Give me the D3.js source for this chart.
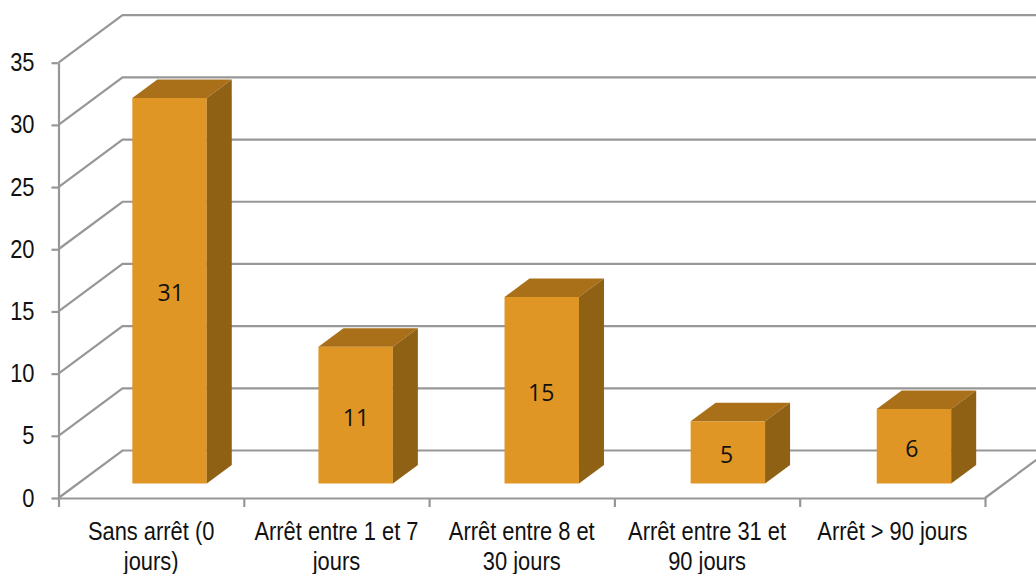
<!DOCTYPE html>
<html lang="fr">
<head>
<meta charset="UTF-8">
<title>Arrêt</title>
<script src="https://cdn.jsdelivr.net/npm/d3@7"></script>
<style>
  html, body { margin: 0; padding: 0; background: #fff; }
  svg { display: block; }
  .tick-label { font-family: "Liberation Sans", sans-serif; font-size: 25px; fill: #111; }
  .value-label { font-family: "Open Sans", sans-serif; font-size: 23px; fill: #111; text-anchor: middle; }
</style>
</head>
<body>
<div id="chart"></div>
<script>
const categories = ["Sans arrêt (0 jours)", "Arrêt entre 1 et 7 jours", "Arrêt entre 8 et 30 jours", "Arrêt entre 31 et 90 jours", "Arrêt > 90 jours"];
const categoryLines = [["Sans arrêt (0", "jours)"], ["Arrêt entre 1 et 7", "jours"], ["Arrêt entre 8 et", "30 jours"], ["Arrêt entre 31 et", "90 jours"], ["Arrêt > 90 jours"]];
const values = [31, 11, 15, 5, 6];
const yTicks = [0, 5, 10, 15, 20, 25, 30, 35];

const width = 1036, height = 574;
const plotLeft = 58.5, plotRight = 985, plotTop = 62.7, plotBottom = 498;
const wallDx = 64, wallDy = 47.5;   // depth of the floor
const barDx = 25, barDy = 18.5;     // depth of a bar
const gridColor = "#979797";
const narrow = 0.875;               // the original font is a narrow one, not installed here

const svg = d3.select("#chart").append("svg")
    .attr("width", width)
    .attr("height", height);

const y = d3.scaleLinear().domain([0, 35]).range([plotBottom, plotTop]);
const xBand = d3.scaleBand().domain(categories).range([plotLeft - 1.5, plotRight + 2.5]).paddingInner(0.6).paddingOuter(0.3);
const xEdge = d3.scaleLinear().domain([0, categories.length]).range([plotLeft, plotRight]);

// back wall grid and the slanted lines on the side wall
const grid = svg.append("g").attr("fill", "none").attr("stroke", gridColor).attr("stroke-width", 2.2);
grid.selectAll("path.wall").data(yTicks).join("path")
    .attr("class", "wall")
    .attr("d", d => `M${plotLeft},${y(d)}L${plotLeft + wallDx},${y(d) - wallDy}L${width + 5},${y(d) - wallDy}`);
grid.append("path")
    .attr("d", `M${plotRight},${plotBottom}L${plotRight + wallDx},${plotBottom - wallDy}`);

// bars
const barOffX = (wallDx - barDx) / 2, barOffY = (wallDy - barDy) / 2;
const bars = svg.selectAll("g.bar").data(values).join("g").attr("class", "bar");
const bx = (d, i) => xBand(categories[i]) + barOffX;
const by = d => y(d) - barOffY;
const base = y(0) - barOffY;
const bw = xBand.bandwidth();

bars.append("rect")
    .attr("x", bx)
    .attr("y", by)
    .attr("width", bw)
    .attr("height", d => base - by(d))
    .attr("fill", "#E09624");
bars.append("path")
    .attr("fill", "#AA7019")
    .attr("d", (d, i) => `M${bx(d, i)},${by(d)}l${barDx},${-barDy}h${bw}l${-barDx},${barDy}Z`);
bars.append("path")
    .attr("fill", "#8E6114")
    .attr("d", (d, i) => `M${bx(d, i) + bw},${by(d)}l${barDx},${-barDy}V${base - barDy}l${-barDx},${barDy}Z`);
bars.append("text")
    .attr("class", "value-label")
    .attr("x", (d, i) => xEdge(i + 0.5) + barOffX)
    .attr("y", d => (by(d) + base) / 2 + 10.5)
    .text(d => d);

// axes
const yAxis = svg.append("g")
    .attr("transform", `translate(${plotLeft},0)`)
    .call(d3.axisLeft(y).tickValues(yTicks).tickSize(7).tickSizeOuter(0));
yAxis.selectAll("path, line").attr("stroke", gridColor).attr("stroke-width", 2.2);
yAxis.attr("font-family", null).attr("font-size", null);
yAxis.selectAll("text")
    .attr("class", "tick-label")
    .attr("x", 0)
    .attr("transform", `translate(-24,0) scale(${narrow},1)`);

const xAxis = svg.append("g")
    .attr("transform", `translate(0,${plotBottom})`)
    .call(d3.axisBottom(xEdge).ticks(categories.length).tickSize(9).tickSizeOuter(0).tickFormat(""));
xAxis.selectAll("path, line").attr("stroke", gridColor).attr("stroke-width", 2.2);

const xLabels = svg.selectAll("text.x-label").data(categories).join("text")
    .attr("class", "tick-label x-label")
    .attr("text-anchor", "middle")
    .attr("transform", (d, i) => `translate(${xEdge(i + 0.5)},0) scale(${narrow},1)`);
xLabels.selectAll("tspan").data((d, i) => categoryLines[i]).join("tspan")
    .attr("x", 0)
    .attr("y", (d, i) => 540 + i * 30)
    .text(d => d);
</script>
</body>
</html>
